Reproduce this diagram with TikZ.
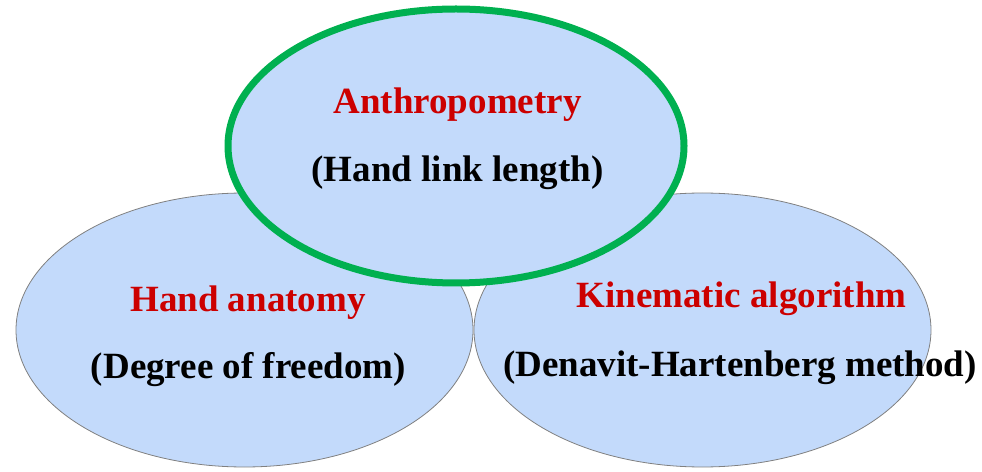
\documentclass[tikz,border=0pt]{standalone}
\usepackage{fontspec}
\setmainfont{Liberation Serif}
\usetikzlibrary{shapes.geometric}
\definecolor{bubble}{HTML}{C3DAFB}
\definecolor{redtxt}{HTML}{CC0000}
\definecolor{greenline}{HTML}{00B050}
\tikzset{
  bub/.style={ellipse, inner sep=0pt, fill=bubble, minimum width=457pt, minimum height=274pt},
  side/.style={bub, draw=black!50, line width=0.8pt},
  topb/.style={bub, draw=greenline, line width=7pt, minimum width=456pt, minimum height=274pt},
  ttl/.style={anchor=base, text=redtxt, font=\fontsize{37}{44}\selectfont\bfseries, inner sep=0pt},
  sub/.style={anchor=base, text=black, font=\fontsize{37}{44}\selectfont\bfseries, inner sep=0pt}
}
\begin{document}
\begin{tikzpicture}[x=1pt,y=1pt]
\useasboundingbox (0,0) rectangle (982,471);
\node[side] (left) at (244.5,141) {};
\node[side] (right) at (702.5,141) {};
\node[topb] (top) at (456,325) {};
\node[ttl] (t1) at (457.5,357) {Anthropometry};
\node[sub] (s1) at (457.5,289) {(Hand link length)};
\node[ttl] (t2) at (248,159) {Hand anatomy};
\node[sub] (s2) at (248.5,92) {(Degree of freedom)};
\node[ttl] (t3) at (741.5,163) {Kinematic algorithm};
\node[sub] (s3) at (740,94) {(Denavit-Hartenberg method)};
\end{tikzpicture}
\end{document}
